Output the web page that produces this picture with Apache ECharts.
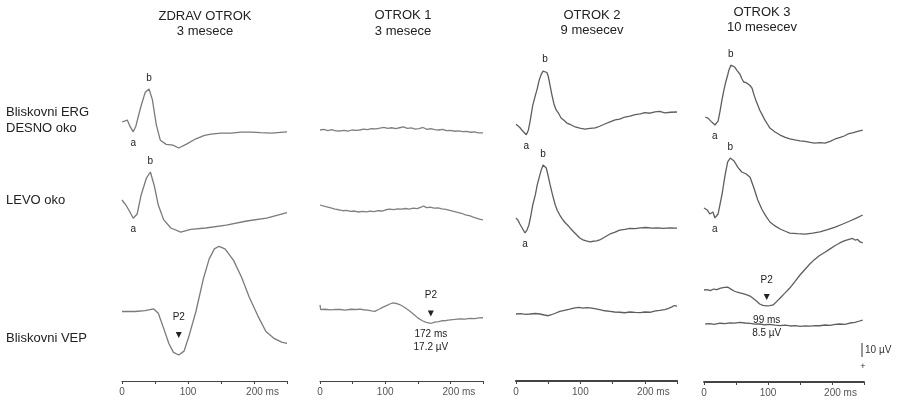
<!DOCTYPE html>
<html>
<head>
<meta charset="utf-8">
<title>ERG / VEP</title>
<script src="https://cdn.jsdelivr.net/npm/echarts@6/dist/echarts.min.js"></script>
<style>
  html, body { margin: 0; padding: 0; background: #fff; }
  #chart { width: 897px; height: 401px; }
</style>
</head>
<body>
<div id="chart"></div>
<script>
// naslovi stolpcev in vrstic
const colTitles = ['ZDRAV OTROK', 'OTROK 1', 'OTROK 2', 'OTROK 3'];
const colAges = ['3 mesece', '3 mesece', '9 mesecev', '10 mesecev'];
const rowTitles = ['Bliskovni ERG', 'DESNO oko', 'LEVO oko', 'Bliskovni VEP'];

// zapisi: [cas ms, amplituda µV]
const zdravDesno = [[0,0],[8,1.4],[12,-3],[17,-7],[21,-3],[28,10],[35,21],[41,23.6],[46,16],[52,-2],[58,-13],[67,-16],[77,-16.5],[86,-18.6],[97,-16],[112,-12],[125,-9.5],[135,-8.6],[150,-8],[166,-7.9],[180,-7.3],[196,-7.2],[210,-7.6],[227,-7.9],[240,-7.4],[250,-7.1]];
const zdravLevo = [[0,0],[6,-3.6],[12,-8.6],[17,-13],[20,-12],[23,-10],[29,3.6],[37,15.7],[43,20],[49,10],[55,-3.6],[63,-14],[74,-20],[89,-23],[104,-21],[127,-20],[158,-18],[189,-15],[219,-13],[250,-9]];
const zdravVep = [[0,0],[20,0],[35,0.7],[48,2],[55,-1.4],[63,-13],[71,-25],[78,-32],[86,-34],[94,-31],[101,-20],[112,0],[123,25],[132,41],[140,49],[147,51],[156,49],[169,40],[181,27],[193,11],[206,-3.6],[218,-15.7],[230,-21],[242,-24],[250,-25]];

const otrok1Desno = [[0,0],[6,0.5],[12,-0.4],[18,0.3],[24,-0.6],[31,-0.7],[37,-0.2],[43,-0.8],[49,0],[55,-0.3],[61,0],[67,0.6],[73,0.2],[79,1],[86,0.8],[92,1.4],[98,1.9],[104,1.2],[110,1.6],[116,1],[122,1.6],[128,2.2],[134,1.1],[140,1.5],[146,0.6],[152,1],[158,1.8],[164,0.5],[170,0.9],[176,0.2],[182,0],[188,0.4],[194,-0.5],[200,-0.2],[207,-0.9],[213,-0.6],[219,-1.2],[225,-1],[231,-1.6],[237,-1.4],[243,-2],[250,-2.1]];
const otrok1Levo = [[0,0],[6,-0.8],[12,-1.5],[18,-2.2],[23,-2.9],[29,-3.4],[35,-4.1],[41,-3.9],[47,-4.6],[53,-4.3],[59,-5],[65,-4.6],[71,-4.9],[77,-4.4],[83,-4.8],[89,-4.1],[95,-4.3],[101,-3.4],[107,-2.9],[113,-3.3],[119,-2.7],[125,-3],[131,-2.5],[137,-2.9],[143,-2.3],[149,-2.6],[155,-1.5],[159,-0.7],[163,-1.9],[169,-1.6],[175,-2.3],[181,-2],[187,-2.7],[193,-3.1],[199,-3.8],[205,-4.5],[211,-5.2],[217,-5.9],[223,-7],[229,-7.6],[235,-8.6],[241,-9.5],[246,-10.3],[250,-10.7]];
const otrok1Vep = [[0,3.6],[1,0],[8,0.2],[16,-0.3],[24,0.1],[31,0],[39,-0.4],[47,0.2],[55,0],[61,0.3],[67,-0.2],[73,-0.5],[79,-1.1],[84,-1.4],[90,0],[96,1.6],[102,3],[108,4.4],[112,5],[117,4.6],[123,3.6],[130,1.5],[138,-1.4],[144,-3.8],[150,-6.4],[157,-8.6],[163,-9.9],[170,-10.7],[176,-9.6],[182,-9.3],[188,-8.6],[194,-8.4],[200,-7.9],[207,-7.6],[215,-7.1],[222,-7.3],[230,-6.8],[237,-7],[244,-6.4],[250,-6.3]];

const otrok2Desno = [[0,0.5],[3,0],[6,-1.8],[9,-3.6],[13,-5.5],[16,-7],[19,-4],[22,3],[26,14],[30,21],[33,26],[36,32],[39,36],[42,38.5],[45,39],[48,37.5],[50,35],[53,28],[56,21],[59,15],[62,11],[66,8.4],[70,5],[74,3.6],[79,1.4],[85,0.2],[92,-1.4],[99,-2.2],[107,-2.9],[115,-2.4],[123,-2.1],[130,-0.9],[138,0.7],[146,2.3],[154,3.6],[161,4.2],[169,5.7],[177,6.3],[185,7.4],[193,7.9],[200,8.8],[208,8.4],[216,9.3],[223,9.8],[231,8.6],[240,9.1],[250,9.3]];
const otrok2Levo = [[0,0],[3,-1.5],[6,-4.3],[10,-7.5],[14,-10.7],[17,-8.6],[20,-5],[23,1.5],[26,9.3],[30,16.5],[33,23.6],[36,29],[39,34],[42,37.9],[45,37],[47,35.7],[50,30],[53,23.6],[57,16],[61,9.3],[64,5.5],[68,2.1],[72,-0.8],[76,-3.2],[80,-5],[84,-7.1],[89,-9.6],[94,-12],[99,-14.3],[104,-15.6],[109,-16.4],[115,-17],[120,-16.6],[125,-16.4],[130,-15.7],[138,-13.6],[146,-11.4],[153,-10.3],[161,-8.6],[169,-8.1],[177,-7.4],[185,-7.6],[193,-7.1],[202,-6.8],[211,-7.3],[220,-7],[229,-7.4],[239,-7.1],[250,-7.3]];
const otrok2Vep = [[0,0],[7,0.3],[15,-0.3],[22,0],[30,0.4],[37,0],[44,-0.8],[50,-1.4],[55,-0.6],[61,0.6],[68,2.1],[75,2.9],[82,3.8],[88,4.6],[92,5],[98,5.4],[104,4.8],[110,5.2],[115,5],[122,4.4],[130,3.6],[138,2.6],[146,2.1],[153,1.6],[161,1.4],[169,1],[177,1.6],[185,1.3],[193,1.1],[200,1.6],[208,1.4],[215,2.3],[223,2.9],[231,3.6],[237,4.6],[242,5.7],[246,6.8],[250,6.4]];

const otrok3Desno = [[2,0],[6,-0.8],[9,-2.1],[13,-4],[17,-5.7],[20,-4.3],[22,-2.9],[25,4],[28,12],[31,19],[34,25],[37,30],[39,33.6],[42,37],[45,36.6],[48,35.7],[52,33],[56,30.7],[59,27.5],[62,25],[66,24.5],[69,23.6],[72,22.5],[75,20.7],[78,16],[81,12],[84,8.5],[87,5],[91,1.5],[95,-2.1],[99,-5],[103,-7.9],[111,-10.7],[119,-12.9],[127,-14.6],[134,-15.7],[142,-16.4],[150,-17],[158,-17.4],[166,-18.2],[173,-18.6],[181,-18.3],[189,-18.6],[197,-17.4],[205,-15.7],[213,-14.6],[220,-13.4],[225,-12.1],[232,-11.4],[240,-10.3],[248,-9.3]];
const otrok3Levo = [[0,0],[5,-1.4],[9,-4.3],[14,-2.9],[17,-7.1],[22,-4.3],[28,9.3],[33,23.6],[37,33],[41,35.7],[47,33.6],[53,29],[59,25.7],[66,24.3],[72,22],[78,14.3],[84,5.7],[91,-1.4],[97,-6],[103,-10],[111,-12.8],[119,-15],[127,-16.6],[134,-17.9],[146,-18.3],[158,-18.6],[170,-18],[181,-17],[193,-15.5],[205,-13.6],[216,-11.6],[228,-9.3],[238,-7.2],[248,-5]];
const otrok3Vep = [[0,0],[5,0.3],[10,-0.4],[15,0.7],[20,0.2],[26,1.4],[32,1.8],[37,2.1],[42,0.6],[47,-0.7],[52,-1.6],[56,-2.1],[61,-2.6],[66,-3.3],[72,-4.3],[77,-6],[82,-7.8],[87,-10],[92,-11],[98,-11.4],[103,-11.2],[108,-10.7],[113,-8.5],[119,-5.7],[126,-2.4],[134,1.4],[142,6],[150,10.7],[158,14.8],[165,18.4],[172,21.5],[180,24.5],[189,27],[197,29.4],[205,31.8],[212,33.6],[220,35.2],[228,36.4],[232,36.8],[236,35.7],[240,36.1],[244,34.3],[248,33.6]];
const otrok3VepB = [[2,0],[9,0.4],[16,-0.3],[25,0.7],[33,0.4],[40,1.1],[48,0.8],[56,1.4],[64,0.9],[72,0.6],[80,-0.2],[87,0],[95,-0.7],[103,-0.4],[111,-1.1],[119,-1.4],[127,-1],[135,-1.8],[143,-1.5],[150,-2.1],[158,-1.7],[166,-2],[174,-1.4],[181,-1.6],[189,-0.9],[197,-1.2],[205,-0.4],[212,0],[220,-0.3],[228,0.9],[236,1.4],[242,2.5],[248,3.6]];

// oznake valov: [ime, cas ms, amplituda µV]
const zdravDesnoWaves = [['a',17,-7],['b',41,23.6]];
const zdravLevoWaves = [['a',17,-13],['b',43,20]];
const otrok2DesnoWaves = [['a',16,-7],['b',45,39]];
const otrok2LevoWaves = [['a',14,-10.7],['b',42,37.9]];
const otrok3DesnoWaves = [['a',17,-5.7],['b',42,37]];
const otrok3LevoWaves = [['a',17,-7.1],['b',41,35.7]];
// P2: [cas ms, amplituda µV, zapis latence, zapis amplitude]
const zdravP2 = [86, -34, '', ''];
const otrok1P2 = [170, -10.7, '172 ms', '17.2 µV'];
const otrok3P2 = [98, -11.4, '99 ms', '8.5 µV'];

// postavitev (px)
const pxPerUv = 1.4;
const colX = [[122, 287], [320, 483], [516, 677], [704, 864]];
const axisY = [381, 381, 381, 382];
const axisWidth = [1.2, 1.2, 2.2, 1.8];
const FONT = 'Liberation Sans, Arial, sans-serif';

const traces = [
  { data: zdravDesno, col: 0, y0: 122, waves: zdravDesnoWaves, color: '#7a7a7a' },
  { data: zdravLevo, col: 0, y0: 200, waves: zdravLevoWaves, color: '#7a7a7a' },
  { data: zdravVep, col: 0, y0: 320, p2: zdravP2, p2Text: -38, p2Arrow: -20, color: '#7a7a7a' },
  { data: otrok1Desno, col: 1, y0: 130, color: '#808080' },
  { data: otrok1Levo, col: 1, y0: 205, color: '#808080' },
  { data: otrok1Vep, col: 1, y0: 316, p2: otrok1P2, p2Text: -28, p2Arrow: -10, p2Below: 11, color: '#808080' },
  { data: otrok2Desno, col: 2, y0: 125, waves: otrok2DesnoWaves, color: '#5e5e5e' },
  { data: otrok2Levo, col: 2, y0: 218, waves: otrok2LevoWaves, color: '#5e5e5e' },
  { data: otrok2Vep, col: 2, y0: 325, color: '#5e5e5e' },
  { data: otrok3Desno, col: 3, y0: 117, waves: otrok3DesnoWaves, color: '#5e5e5e' },
  { data: otrok3Levo, col: 3, y0: 208, waves: otrok3LevoWaves, color: '#5e5e5e' },
  { data: otrok3Vep, col: 3, y0: 290, p2: otrok3P2, p2Text: -26, p2Arrow: -9, p2Below: 14, color: '#5e5e5e' },
  { data: otrok3VepB, col: 3, y0: 345, color: '#5e5e5e' }
];

const grid = [], xAxis = [], yAxis = [], series = [];
const span = 70; // µV nad in pod osnovno linijo

function textMark(txt, t, v, dy, size) {
  return {
    name: txt, coord: [t, v], symbolSize: 0,
    label: { show: true, formatter: txt, offset: [0, dy], fontSize: size || 10,
             color: '#222', fontFamily: FONT, position: 'inside' }
  };
}

traces.forEach((tr, i) => {
  const [x0, x1] = colX[tr.col];
  grid.push({ left: x0, width: x1 - x0, top: tr.y0 - span * pxPerUv, height: 2 * span * pxPerUv });
  xAxis.push({ gridIndex: i, type: 'value', min: 0, max: 250, show: false });
  yAxis.push({ gridIndex: i, type: 'value', min: -span, max: span, show: false });

  const marks = [];
  (tr.waves || []).forEach(([n, t, v]) => {
    marks.push(textMark(n, t, v, n === 'b' ? -11 : 11, 10));
  });
  if (tr.p2) {
    const [t, v, lat, amp] = tr.p2;
    marks.push(textMark('P2', t, v, tr.p2Text, 10));
    marks.push({
      coord: [t, v], symbol: 'triangle', symbolRotate: 180, symbolSize: [6, 6],
      symbolOffset: [0, tr.p2Arrow], itemStyle: { color: '#222' }, label: { show: false }
    });
    if (lat) {
      marks.push(textMark(lat, t, v, tr.p2Below, 10));
      marks.push(textMark(amp, t, v, tr.p2Below + 13, 10));
    }
  }

  series.push({
    type: 'line', xAxisIndex: i, yAxisIndex: i, data: tr.data,
    showSymbol: false, smooth: false, silent: true,
    lineStyle: { color: tr.color, width: 1.3 },
    markPoint: { silent: true, data: marks, animation: false }
  });
});

// casovne osi spodaj
colX.forEach(([x0, x1], c) => {
  const gi = grid.length;
  grid.push({ left: x0, width: x1 - x0, top: axisY[c] - 80, height: 80 });
  xAxis.push({
    gridIndex: gi, type: 'value', min: 0, max: 250, interval: 50,
    axisLine: { show: true, lineStyle: { color: '#444', width: axisWidth[c] } },
    axisTick: { show: true, length: 3, lineStyle: { color: '#444' } },
    splitLine: { show: false },
    axisLabel: {
      margin: 6, fontSize: 10, color: '#555', fontFamily: FONT, showMaxLabel: true,
      formatter: v => v === 0 ? '0' : v === 100 ? '100' : v === 200 ? '{s|}200 ms' : '',
      rich: { s: { width: 17 } }
    }
  });
  yAxis.push({ gridIndex: gi, type: 'value', min: 0, max: 1, show: false });
  series.push({ type: 'line', xAxisIndex: gi, yAxisIndex: gi, data: [], silent: true });
});

const graphic = [];
colTitles.forEach((t, c) => {
  const cx = [205, 403, 592, 762][c];
  graphic.push({ type: 'text', x: cx, y: [16, 15, 15, 12][c],
    style: { text: t, font: '13px ' + FONT, fill: '#222', align: 'center', verticalAlign: 'middle' } });
  graphic.push({ type: 'text', x: cx, y: [31, 31, 30, 27][c],
    style: { text: colAges[c], font: '13px ' + FONT, fill: '#222', align: 'center', verticalAlign: 'middle' } });
});
[112, 128, 200, 338].forEach((y, r) => {
  graphic.push({ type: 'text', x: 6, y: y,
    style: { text: rowTitles[r], font: '13px ' + FONT, fill: '#222', verticalAlign: 'middle' } });
});
// merilo 10 µV
graphic.push({ type: 'line', shape: { x1: 862, y1: 343, x2: 862, y2: 343 + 10 * pxPerUv },
  style: { stroke: '#333', lineWidth: 1 } });
graphic.push({ type: 'text', x: 865, y: 350,
  style: { text: '10 µV', font: '10px ' + FONT, fill: '#333', verticalAlign: 'middle' } });
graphic.push({ type: 'text', x: 863, y: 367,
  style: { text: '+', font: '9px ' + FONT, fill: '#333', align: 'center', verticalAlign: 'middle' } });

const chart = echarts.init(document.getElementById('chart'));
chart.setOption({
  animation: false,
  backgroundColor: '#fff',
  textStyle: { fontFamily: FONT },
  grid, xAxis, yAxis, series, graphic
});
</script>
</body>
</html>
